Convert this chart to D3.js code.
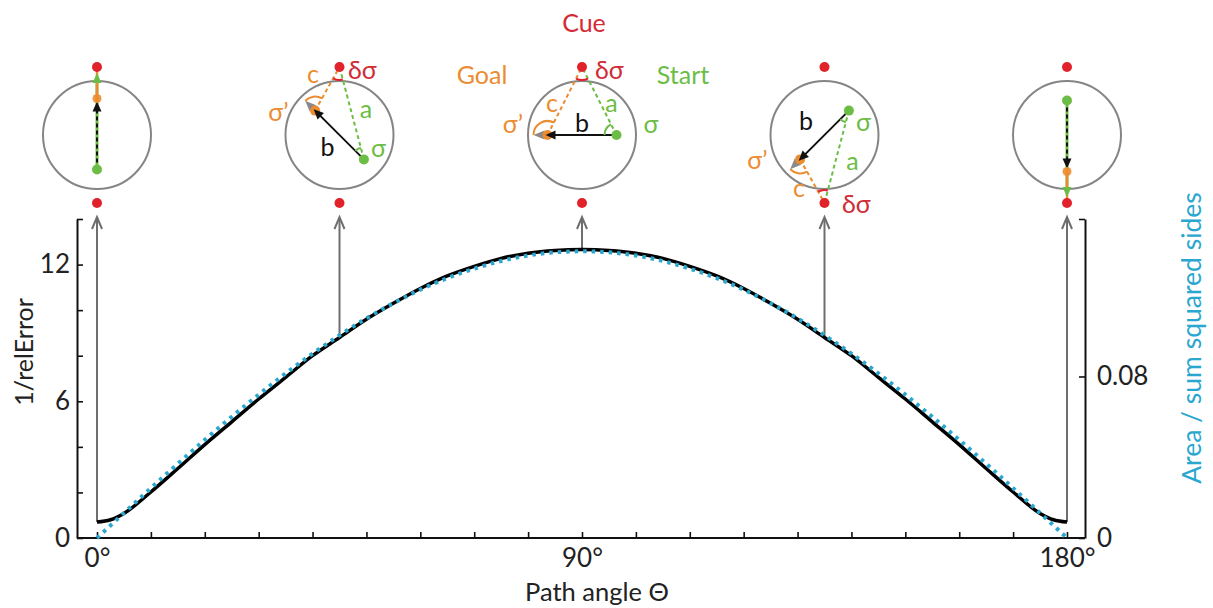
<!DOCTYPE html>
<html lang="en">
<head>
<meta charset="UTF-8">
<title>Path angle</title>
<style>
  body { margin: 0; background: #fff; }
  svg { display: block; font-family: Lato, "Open Sans", sans-serif; }
</style>
</head>
<body>
<div id="chart"></div>
<script src="https://cdn.jsdelivr.net/npm/d3@7"></script>
<script>
// data
const pathAngle = [0, 2.5, 5, 10, 15, 20, 25, 30, 35, 40, 45, 50, 55, 60, 65, 70, 75, 80, 85, 90,
  95, 100, 105, 110, 115, 120, 125, 130, 135, 140, 145, 150, 155, 160, 165, 170, 175, 177.5, 180];
const invRelError = [0.70, 0.80, 1.08, 2.02, 3.05, 4.10, 5.10, 6.10, 7.05, 8.00, 8.80, 9.60, 10.30, 10.95, 11.50, 11.92, 12.27, 12.50, 12.62, 12.66,
  12.62, 12.50, 12.27, 11.92, 11.50, 10.95, 10.30, 9.60, 8.80, 8.00, 7.05, 6.10, 5.10, 4.10, 3.05, 2.02, 1.08, 0.80, 0.70];
const areaRatio = [0, 0.0062, 0.0124, 0.0247, 0.0368, 0.0486, 0.0600, 0.0710, 0.0815, 0.0913, 0.1004, 0.1088, 0.1163, 0.1230, 0.1287, 0.1334, 0.1372, 0.1399, 0.1415, 0.1420,
  0.1415, 0.1399, 0.1372, 0.1334, 0.1287, 0.1230, 0.1163, 0.1088, 0.1004, 0.0913, 0.0815, 0.0710, 0.0600, 0.0486, 0.0368, 0.0247, 0.0124, 0.0062, 0];

const leftTicks = [0, 2, 4, 6, 8, 10, 12, 14];
const leftLabels = [0, 6, 12];
const rightTicks = [0, 0.08, 0.158];
const rightLabels = [0, 0.08];
const bottomTicks = [0, 10, 20, 30, 40, 50, 60, 70, 80, 90, 100, 110, 120, 130, 140, 150, 160, 170, 180];
const bottomLabels = [0, 90, 180];
const diagramAngles = [0, 45, 90, 135, 180];

const RED = "#e2222a", ORANGE = "#ec8c30", GREEN = "#6cbd45", CYAN = "#2aa7cf", GREY = "#6e6e6e";

const width = 1213, height = 608;
const svg = d3.select("#chart").append("svg")
  .attr("width", width).attr("height", height)
  .attr("viewBox", [0, 0, width, height]);

const x = d3.scaleLinear().domain([0, 180]).range([97, 1067]);
const yL = d3.scaleLinear().domain([0, 14]).range([538, 219]);
const yR = d3.scaleLinear().domain([0, 0.158]).range([538, 219]);

// axes
function styleAxis(g) {
  g.attr("font-size", 26).attr("font-family", "Lato, 'Open Sans', sans-serif");
  g.select(".domain").attr("stroke", "#111").attr("stroke-width", 2);
  g.selectAll(".tick line").attr("stroke", "#111").attr("stroke-width", 1.6);
  g.selectAll(".tick text").attr("fill", "#222");
}

svg.append("line")
  .attr("x1", 77).attr("x2", 1085).attr("y1", yL(0)).attr("y2", yL(0))
  .attr("stroke", "#111").attr("stroke-width", 2);

svg.append("g")
  .attr("transform", `translate(0,${yL(0)})`)
  .call(d3.axisBottom(x).tickValues(bottomTicks).tickSize(-6).tickPadding(11)
    .tickFormat(d => bottomLabels.includes(d) ? d + "°" : ""))
  .call(styleAxis)
  .call(g => g.select(".domain").remove());

svg.append("g")
  .attr("transform", "translate(77,0)")
  .call(d3.axisLeft(yL).tickValues(leftTicks).tickSize(-6).tickSizeOuter(0).tickPadding(7)
    .tickFormat(d => leftLabels.includes(d) ? d : ""))
  .call(styleAxis);

svg.append("g")
  .attr("transform", "translate(1085,0)")
  .call(d3.axisRight(yR).tickValues(rightTicks).tickSize(-6).tickSizeOuter(0).tickPadding(12)
    .tickFormat(d => rightLabels.includes(d) ? (d === 0 ? "0" : d.toFixed(2)) : ""))
  .call(styleAxis);

// axis titles
svg.append("text")
  .attr("transform", "translate(33,352) rotate(-90)")
  .attr("text-anchor", "middle").attr("font-size", 25).attr("fill", "#222")
  .text("1/relError");

svg.append("text")
  .attr("transform", "translate(1201,338) rotate(-90)")
  .attr("text-anchor", "middle").attr("font-size", 26.5).attr("fill", CYAN)
  .text("Area / sum squared sides");

svg.append("text")
  .attr("x", 597).attr("y", 601)
  .attr("text-anchor", "middle").attr("font-size", 25.5).attr("fill", "#222")
  .text("Path angle Θ");

// grey arrows from curve up to the diagrams
const series = pathAngle.map((a, i) => ({ a, v: invRelError[i], r: areaRatio[i] }));

diagramAngles.forEach(a => {
  const px = x(a);
  const v = invRelError[pathAngle.indexOf(a)];
  svg.append("line")
    .attr("x1", px).attr("x2", px).attr("y1", yL(v)).attr("y2", 218)
    .attr("stroke", GREY).attr("stroke-width", 2);
  svg.append("path")
    .attr("d", `M${px - 5},229 L${px},217 L${px + 5},229`)
    .attr("fill", "none").attr("stroke", GREY).attr("stroke-width", 2);
});

// curves
svg.append("path")
  .datum(series)
  .attr("fill", "none").attr("stroke", "#000").attr("stroke-width", 3.5)
  .attr("d", d3.line().x(d => x(d.a)).y(d => yL(d.v)).curve(d3.curveMonotoneX));

svg.append("path")
  .datum(series)
  .attr("fill", "none").attr("stroke", CYAN).attr("stroke-width", 4)
  .attr("stroke-dasharray", "3.5,5")
  .attr("d", d3.line().x(d => x(d.a)).y(d => yR(d.r)).curve(d3.curveMonotoneX));

// diagrams
const cy = 135, R = 54, cueOff = 68, halfB = 34.5;

function head(tip, dir, len, hw) {
  const bx = tip[0] - len * dir[0], by = tip[1] - len * dir[1];
  return `M${tip[0]},${tip[1]} L${bx - hw * dir[1]},${by + hw * dir[0]} L${bx + hw * dir[1]},${by - hw * dir[0]} Z`;
}
function unit(p, q) {
  const dx = q[0] - p[0], dy = q[1] - p[1], l = Math.hypot(dx, dy);
  return [dx / l, dy / l];
}
function angleArc(v, u1, u2, r) {
  let a0 = Math.atan2(u1[1], u1[0]), a1 = Math.atan2(u2[1], u2[0]);
  let d = a1 - a0;
  while (d > Math.PI) d -= 2 * Math.PI;
  while (d < -Math.PI) d += 2 * Math.PI;
  const p = d3.path();
  p.moveTo(v[0] + r * Math.cos(a0), v[1] + r * Math.sin(a0));
  p.arc(v[0], v[1], r, a0, a0 + d, d < 0);
  return p.toString();
}

diagramAngles.forEach(a => {
  const cx = x(a);
  const g = svg.append("g");
  const rad = a * Math.PI / 180;
  const dir = [-Math.sin(rad), -Math.cos(rad)];
  const start = [cx - halfB * dir[0], cy - halfB * dir[1]];
  const goal = [cx + halfB * dir[0], cy + halfB * dir[1]];
  const top = [cx, cy - cueOff], bottom = [cx, cy + cueOff];
  const cue = a <= 90 ? top : bottom;

  g.append("circle").attr("cx", cx).attr("cy", cy).attr("r", R)
    .attr("fill", "none").attr("stroke", "#858585").attr("stroke-width", 2);

  if (a === 0 || a === 180) {
    const uc = unit(start, cue);
    const gTip = [cue[0] - 6 * uc[0], cue[1] - 6 * uc[1]];
    g.append("line").attr("x1", start[0]).attr("y1", start[1])
      .attr("x2", gTip[0] - 8 * uc[0]).attr("y2", gTip[1] - 8 * uc[1])
      .attr("stroke", GREEN).attr("stroke-width", 3);
    g.append("line").attr("x1", goal[0]).attr("y1", goal[1]).attr("x2", cue[0]).attr("y2", cue[1])
      .attr("stroke", ORANGE).attr("stroke-width", 2.5);
    g.append("path").attr("d", head(gTip, uc, 10, 4.5)).attr("fill", GREEN);
    const bTip = [goal[0] - 1 * dir[0], goal[1] - 1 * dir[1]];
    g.append("line").attr("x1", start[0]).attr("y1", start[1])
      .attr("x2", bTip[0] - 8 * dir[0]).attr("y2", bTip[1] - 8 * dir[1])
      .attr("stroke", "#111").attr("stroke-width", 2).attr("stroke-dasharray", "4,3");
    g.append("path").attr("d", head(bTip, dir, 10, 4.5)).attr("fill", "#111");
    g.append("circle").attr("cx", goal[0] + 2 * dir[0]).attr("cy", goal[1] + 2 * dir[1]).attr("r", 4.5)
      .attr("fill", ORANGE).attr("opacity", 0.9);
  } else {
    g.append("line").attr("x1", start[0]).attr("y1", start[1]).attr("x2", cue[0]).attr("y2", cue[1])
      .attr("stroke", GREEN).attr("stroke-width", 2).attr("stroke-dasharray", "4,3");
    g.append("line").attr("x1", goal[0]).attr("y1", goal[1]).attr("x2", cue[0]).attr("y2", cue[1])
      .attr("stroke", ORANGE).attr("stroke-width", 2).attr("stroke-dasharray", "4,3");
    const grTip = [goal[0] + 14 * dir[0], goal[1] + 14 * dir[1]];
    g.append("path").attr("d", head(grTip, dir, 11, 4.5)).attr("fill", "#8a8a8a");
    g.append("circle").attr("cx", goal[0]).attr("cy", goal[1]).attr("r", 5).attr("fill", ORANGE);
    const bTip = [goal[0] + 2 * dir[0], goal[1] + 2 * dir[1]];
    g.append("line").attr("x1", start[0]).attr("y1", start[1])
      .attr("x2", bTip[0] - 8 * dir[0]).attr("y2", bTip[1] - 8 * dir[1])
      .attr("stroke", "#111").attr("stroke-width", 2);
    g.append("path").attr("d", head(bTip, dir, 10, 4.5)).attr("fill", "#111");

    // angle arcs
    g.append("path").attr("d", angleArc(cue, unit(cue, start), unit(cue, goal), 13))
      .attr("fill", "none").attr("stroke", RED).attr("stroke-width", 2);
    g.append("path").attr("d", angleArc(goal, unit(goal, cue), dir, 14))
      .attr("fill", "none").attr("stroke", ORANGE).attr("stroke-width", 2);
    g.append("path").attr("d", angleArc(start, unit(start, cue), dir, 12))
      .attr("fill", "none").attr("stroke", GREEN).attr("stroke-width", 2);
  }

  g.append("circle").attr("cx", start[0]).attr("cy", start[1]).attr("r", 5).attr("fill", GREEN);
  [top, bottom].forEach(p => g.append("circle").attr("cx", p[0]).attr("cy", p[1]).attr("r", 5).attr("fill", RED));
});

// diagram labels
const labelFont = 25;
const diagramLabels = [
  { a: 45, t: "δσ", dx: 8.5, dy: -56, c: "#cf2c36", anchor: "start" },
  { a: 45, t: "c", dx: -26.5, dy: -52, c: ORANGE },
  { a: 45, t: "σ’", dx: -61, dy: -14, c: ORANGE },
  { a: 45, t: "a", dx: 26.5, dy: -17, c: GREEN },
  { a: 45, t: "b", dx: -12, dy: 21, c: "#111" },
  { a: 45, t: "σ", dx: 39, dy: 22, c: GREEN },
  { a: 90, t: "δσ", dx: 13, dy: -56, c: "#cf2c36", anchor: "start" },
  { a: 90, t: "c", dx: -30, dy: -23, c: ORANGE },
  { a: 90, t: "a", dx: 29.5, dy: -23, c: GREEN },
  { a: 90, t: "b", dx: 0, dy: -3, c: "#111" },
  { a: 90, t: "σ’", dx: -69, dy: -2, c: ORANGE },
  { a: 90, t: "σ", dx: 69, dy: -2, c: GREEN },
  { a: 135, t: "b", dx: -18.5, dy: -5, c: "#111" },
  { a: 135, t: "σ", dx: 39, dy: -4, c: GREEN },
  { a: 135, t: "σ’", dx: -67, dy: 34, c: ORANGE },
  { a: 135, t: "a", dx: 28, dy: 35, c: GREEN },
  { a: 135, t: "c", dx: -25.5, dy: 62, c: ORANGE },
  { a: 135, t: "δσ", dx: 17.5, dy: 78, c: "#cf2c36", anchor: "start" }
];
svg.append("g").selectAll("text").data(diagramLabels).join("text")
  .attr("x", d => x(d.a) + d.dx).attr("y", d => cy + d.dy)
  .attr("text-anchor", d => d.anchor || "middle")
  .attr("font-size", labelFont).attr("fill", d => d.c)
  .text(d => d.t);

// legend words above the middle diagram
const legend = [
  { t: "Cue", dx: 2, y: 32, c: "#d42a34" },
  { t: "Goal", dx: -100, y: 84, c: ORANGE },
  { t: "Start", dx: 101, y: 84, c: GREEN }
];
svg.append("g").selectAll("text").data(legend).join("text")
  .attr("x", d => x(90) + d.dx).attr("y", d => d.y)
  .attr("text-anchor", "middle").attr("font-size", labelFont).attr("fill", d => d.c)
  .text(d => d.t);
</script>
</body>
</html>
